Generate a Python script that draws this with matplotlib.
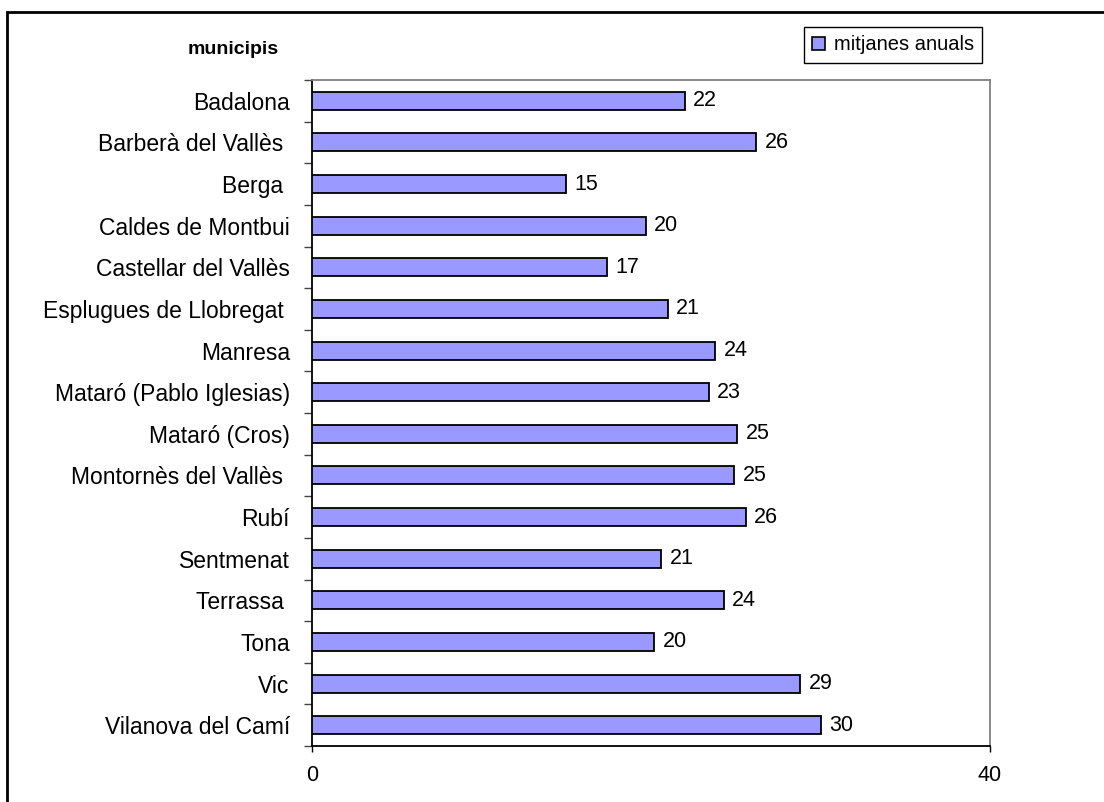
import matplotlib
matplotlib.use("Agg")
import matplotlib.pyplot as plt
from matplotlib.patches import Rectangle, Patch
import numpy as np

plt.rcParams['font.family'] = ['Liberation Sans', 'DejaVu Sans']

categories = ["Badalona", "Barberà del Vallès ", "Berga ", "Caldes de Montbui",
              "Castellar del Vallès", "Esplugues de Llobregat ", "Manresa",
              "Mataró (Pablo Iglesias)", "Mataró (Cros)", "Montornès del Vallès ",
              "Rubí", "Sentmenat", "Terrassa ", "Tona", "Vic", "Vilanova del Camí"]
values = [22.0, 26.2, 15.0, 19.7, 17.4, 21.0, 23.8, 23.4, 25.1, 24.9,
          25.6, 20.6, 24.3, 20.2, 28.8, 30.0]
xticks = [0, 40]
series_name = "mitjanes anuals"
axis_title = "municipis"

W, H = 1104, 802
fig = plt.figure(figsize=(W / 100, H / 100), dpi=100)
ax = fig.add_axes([312 / W, 1 - 746 / H, (990 - 312) / W, (746 - 80) / H])

n = len(categories)
y = np.arange(n)
bar_color = "#9999FF"
ax.barh(y, values, height=0.43, color=bar_color, edgecolor="black", linewidth=1.3, zorder=3)

ax.set_xlim(0, 40)
ax.set_ylim(n - 0.5, -0.5)

fs = 15.5
# value labels
for yi, v in zip(y, values):
    ax.annotate(f"{round(v):d}", xy=(v, yi), xytext=(6, 0), textcoords="offset points",
                va="center", ha="left", fontsize=fs, color="black")

# y ticks: labels at centers, tick marks at boundaries
ax.set_yticks(y)
ax.set_yticklabels(categories, fontsize=16.5)
ax.tick_params(axis="y", which="major", length=0, pad=16)
ax.set_yticks(np.arange(-0.5, n, 1.0), minor=True)
ax.tick_params(axis="y", which="minor", length=6, width=1, color="#444444", direction="out")

ax.set_xticks(xticks)
ax.set_xticklabels([str(t) for t in xticks], fontsize=fs)
ax.tick_params(axis="x", which="major", length=4, width=1, pad=10, direction="out")

for s in ["top", "right"]:
    ax.spines[s].set_color("#808080")
    ax.spines[s].set_linewidth(1.3)
for s in ["left", "bottom"]:
    ax.spines[s].set_color("black")
    ax.spines[s].set_linewidth(1.3)

# axis title
fig.text(233 / W, 1 - 50 / H, axis_title, fontsize=14, fontweight="bold",
         ha="center", va="center")

# legend
handle = Patch(facecolor=bar_color, edgecolor="black", linewidth=1.2)
leg = fig.legend([handle], [series_name], loc="center",
                 bbox_to_anchor=(893 / W, 1 - 45 / H), fontsize=14.5,
                 frameon=True, fancybox=False, framealpha=1, edgecolor="black",
                 handlelength=0.65, handleheight=0.65, handletextpad=0.4,
                 borderpad=0.42, borderaxespad=0)
leg.get_frame().set_linewidth(1.0)

# outer frame
fig.patches.append(Rectangle((7 / W, -0.02), 1.05, 1 - 12 / H + 0.02,
                             transform=fig.transFigure, fill=False,
                             edgecolor="black", linewidth=2, zorder=0))

fig.savefig("out.png", dpi=100)
